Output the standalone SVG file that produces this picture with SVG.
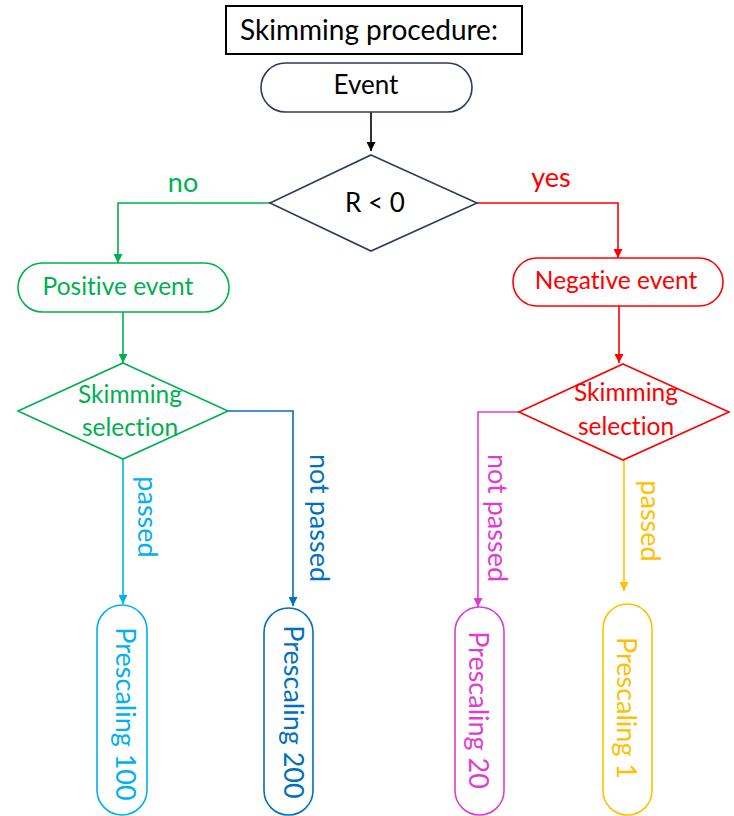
<svg xmlns="http://www.w3.org/2000/svg" width="734" height="816" viewBox="0 0 734 816">
<style>
text{font-family:Lato,"Liberation Sans",sans-serif;font-variant-ligatures:none;}
.c{text-anchor:middle;}
.n{font-size:24.5px;}
.l{font-size:27px;}
.p{font-size:27px;}
.sh{fill:#fff;stroke-width:1.6;}
.ln{fill:none;stroke-width:1.6;}
</style>
<defs>
<marker id="aK" viewBox="0 0 10 10" refX="10" refY="5" markerWidth="9" markerHeight="9" markerUnits="userSpaceOnUse" orient="auto"><path d="M0,0L10,5L0,10z" fill="#000"/></marker>
<marker id="aG" viewBox="0 0 10 10" refX="10" refY="5" markerWidth="9" markerHeight="9" markerUnits="userSpaceOnUse" orient="auto"><path d="M0,0L10,5L0,10z" fill="#00B050"/></marker>
<marker id="aR" viewBox="0 0 10 10" refX="10" refY="5" markerWidth="9" markerHeight="9" markerUnits="userSpaceOnUse" orient="auto"><path d="M0,0L10,5L0,10z" fill="#FF0000"/></marker>
<marker id="aC" viewBox="0 0 10 10" refX="10" refY="5" markerWidth="9" markerHeight="9" markerUnits="userSpaceOnUse" orient="auto"><path d="M0,0L10,5L0,10z" fill="#00B0F0"/></marker>
<marker id="aB" viewBox="0 0 10 10" refX="10" refY="5" markerWidth="9" markerHeight="9" markerUnits="userSpaceOnUse" orient="auto"><path d="M0,0L10,5L0,10z" fill="#0070C0"/></marker>
<marker id="aM" viewBox="0 0 10 10" refX="10" refY="5" markerWidth="9" markerHeight="9" markerUnits="userSpaceOnUse" orient="auto"><path d="M0,0L10,5L0,10z" fill="#E23CCF"/></marker>
<marker id="aY" viewBox="0 0 10 10" refX="10" refY="5" markerWidth="9" markerHeight="9" markerUnits="userSpaceOnUse" orient="auto"><path d="M0,0L10,5L0,10z" fill="#FFC000"/></marker>
</defs>

<g id="connectors">
<path class="ln" stroke="#000" d="M371,112V151" marker-end="url(#aK)"/>
<path class="ln" stroke="#00B050" d="M270,203H118V263" marker-end="url(#aG)"/>
<path class="ln" stroke="#FF0000" d="M477,203H618V258" marker-end="url(#aR)"/>
<path class="ln" stroke="#00B050" d="M123,312V363" marker-end="url(#aG)"/>
<path class="ln" stroke="#FF0000" d="M619,306V363" marker-end="url(#aR)"/>
<path class="ln" stroke="#00B0F0" d="M123,459V604" marker-end="url(#aC)"/>
<path class="ln" stroke="#0070C0" d="M228,411H293V606" marker-end="url(#aB)"/>
<path class="ln" stroke="#E23CCF" d="M519,412H478V607" marker-end="url(#aM)"/>
<path class="ln" stroke="#FFC000" d="M624,460V591" marker-end="url(#aY)"/>
<text class="l c" fill="#00B050" x="183" y="192">no</text>
<text class="l c" fill="#FF0000" x="551" y="187">yes</text>
<text class="l c" fill="#00B0F0" transform="translate(138,517) rotate(90)">passed</text>
<text class="l c" fill="#0070C0" transform="translate(310,518) rotate(90)">not passed</text>
<text class="l c" fill="#E23CCF" transform="translate(488,518) rotate(90)">not passed</text>
<text class="l c" fill="#FFC000" transform="translate(641,521) rotate(90)">passed</text>
</g>

<g id="title">
<rect x="226" y="6" width="296" height="48" fill="#fff" stroke="#000" stroke-width="2"/>
<text class="c" font-size="28" x="369" y="40" fill="#000">Skimming procedure:</text>
</g>

<g id="event">
<rect class="sh" x="261" y="63" width="211" height="49" rx="24.5" stroke="#2F3B5C"/>
<text class="c" font-size="26" x="366" y="94" fill="#000">Event</text>
</g>

<g id="decision">
<polygon class="sh" points="371,155 477,203 371,251 270,203" stroke="#2F3B5C"/>
<text class="c" font-size="26" x="375" y="212" fill="#000">R &lt; 0</text>
</g>

<g id="positive">
<rect class="sh" x="18" y="263" width="211" height="49" rx="24.5" stroke="#00B050"/>
<text class="n c" x="118" y="295" fill="#00B050">Positive event</text>
</g>

<g id="negative">
<rect class="sh" x="513" y="258" width="210" height="48" rx="24" stroke="#FF0000"/>
<text class="n c" x="616" y="289" fill="#FF0000">Negative event</text>
</g>

<g id="skim-pos">
<polygon class="sh" points="123,363 228,411 123,459 18,411" stroke="#00B050"/>
<text class="n c" x="130" y="403" fill="#00B050">Skimming</text>
<text class="n c" x="130" y="436" fill="#00B050">selection</text>
</g>

<g id="skim-neg">
<polygon class="sh" points="623,364 729,412 623,460 519,412" stroke="#FF0000"/>
<text class="n c" x="626" y="401" fill="#FF0000">Skimming</text>
<text class="n c" x="626" y="435" fill="#FF0000">selection</text>
</g>

<g id="prescale100">
<rect class="sh" x="97" y="605" width="50" height="210" rx="25" stroke="#00B0F0"/>
<text class="p c" fill="#00B0F0" transform="translate(116,714) rotate(90)">Prescaling 100</text>
</g>

<g id="prescale200">
<rect class="sh" x="264" y="608" width="49" height="207" rx="24.5" stroke="#0070C0"/>
<text class="p c" fill="#0070C0" transform="translate(284,712) rotate(90)">Prescaling 200</text>
</g>

<g id="prescale20">
<rect class="sh" x="455" y="607" width="49" height="208" rx="24.5" stroke="#E23CCF"/>
<text class="p c" fill="#E23CCF" transform="translate(469,710) rotate(90)">Prescaling 20</text>
</g>

<g id="prescale1">
<rect class="sh" x="603" y="604" width="49" height="211" rx="24.5" stroke="#FFC000"/>
<text class="p c" fill="#FFC000" transform="translate(617,708) rotate(90)">Prescaling 1</text>
</g>
</svg>
